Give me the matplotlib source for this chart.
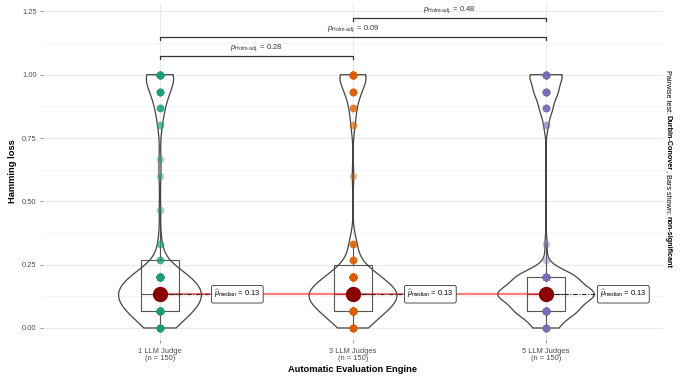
import numpy as np
import matplotlib
matplotlib.use("Agg")
from matplotlib import pyplot as plt
from matplotlib import mlab

plt.rcParams['font.family'] = ['Liberation Sans', 'DejaVu Sans']
plt.rcParams['mathtext.fontset'] = 'custom'
plt.rcParams['mathtext.rm'] = 'Liberation Sans'
plt.rcParams['mathtext.it'] = 'Liberation Sans:italic'
plt.rcParams['mathtext.bf'] = 'Liberation Sans:bold'

# Hamming loss levels (k/15) and how many of the 150 items sit on each level
loss_levels = [0.0, 0.0667, 0.1333, 0.2, 0.2667, 0.3333, 0.4, 0.4667,
               0.5333, 0.6, 0.6667, 0.7333, 0.8, 0.8667, 0.9333, 1.0]
counts_1_judge = [12, 30, 40, 29, 3, 2, 0, 1, 0, 1, 1, 0, 2, 4, 8, 17]
counts_3_judges = [12, 30, 45, 25, 5, 4, 0, 0, 0, 1, 0, 0, 2, 3, 7, 16]
counts_5_judges = [11, 28, 46, 28, 1, 1, 0, 0, 0, 0, 0, 0, 2, 6, 11, 16]

groups = ['1 LLM Judge', '3 LLM Judges', '5 LLM Judges']
group_colors = ['#1B9E77', '#D95F02', '#7570B3']

# pairwise comparisons (Durbin-Conover, Holm adjusted)
pairs = [(1, 2), (1, 3), (2, 3)]
pair_pvalues = ['0.28', '0.09', '0.48']
pair_heights = [1.075, 1.15, 1.225]

data = [np.repeat(loss_levels, c) for c in (counts_1_judge, counts_3_judges, counts_5_judges)]
positions = [1, 2, 3]


def nrd0(kde):
    # R's default bandwidth, as a factor of the sample sd
    x = kde.dataset.ravel()
    sd = np.std(x, ddof=1)
    iqr = np.subtract(*np.percentile(x, [75, 25]))
    bw = 0.9 * min(sd, iqr / 1.34) * len(x) ** -0.2
    return bw / sd


# scale violins by area (same n in every group -> width follows peak density)
peaks = []
for vals in data:
    kde = mlab.GaussianKDE(vals, nrd0)
    grid = np.linspace(vals.min(), vals.max(), 512)
    peaks.append(kde.evaluate(grid).max())
violin_widths = [0.5 * (p / max(peaks)) ** 0.7 for p in peaks]

fig = plt.figure(figsize=(6.8, 3.77), dpi=100)
ax = fig.add_axes([43 / 680, 37 / 377, 620 / 680, 337 / 377])

# grid
for y in np.arange(0, 1.3, 0.25):
    ax.axhline(y, color='#EBEBEB', lw=0.8, zorder=0)
for y in np.arange(0.125, 1.3, 0.25):
    ax.axhline(y, color='#F3F3F3', lw=0.6, zorder=0)
for x in positions:
    ax.axvline(x, color='#EBEBEB', lw=0.8, zorder=0)

# boxplots
ax.boxplot(data, positions=positions, widths=0.2, showfliers=False, showcaps=False,
           whis=1.5, manage_ticks=False,
           boxprops=dict(color='#555555', lw=0.8),
           whiskerprops=dict(color='#555555', lw=0.8),
           medianprops=dict(color='#555555', lw=0.8), zorder=2)

# violins
parts = ax.violinplot(data, positions=positions, widths=violin_widths,
                      showextrema=False, points=512, bw_method=nrd0)
for body in parts['bodies']:
    body.set_facecolor('none')
    body.set_edgecolor('#444444')
    body.set_linewidth(0.9)
    body.set_alpha(1)
    body.set_zorder(2)

# raw points
for pos, vals, col in zip(positions, data, group_colors):
    ax.plot(np.full(len(vals), pos), vals, 'o', ms=5.5, color=col, alpha=0.4,
            mec='none', zorder=3)

# medians
medians = [np.median(v) for v in data]
ax.plot(positions, medians, color='red', alpha=0.5, lw=1.6, zorder=4)
for pos, med in zip(positions, medians):
    ax.plot([pos, pos + 0.27], [med, med], color='#222222', lw=0.8,
            ls=(0, (4, 1.5, 1, 1.5)), zorder=4)
    ax.plot(pos, med, 'o', ms=10, color='#8B0000', zorder=5)
    ax.text(pos + 0.28, med, r'$\widehat{\mu}_{\mathrm{median}}$ = %.2f' % med,
            fontsize=5.4, va='center', ha='left', zorder=6,
            bbox=dict(boxstyle='round,pad=0.35,rounding_size=0.25', fc='white',
                      ec='#333333', lw=0.6))

# significance bars
tip = 0.012
for (a, b), p, h in zip(pairs, pair_pvalues, pair_heights):
    ax.plot([a, a, b, b], [h - tip, h, h, h - tip], color='#333333', lw=0.9, zorder=4)
    ax.text((a + b) / 2, h + 0.012, r'$p_{\mathrm{Holm‐adj.}}$ = ' + p,
            fontsize=5.4, ha='center', va='bottom', color='#333333')

ax.set_xlim(0.394, 3.606)
ax.set_ylim(-0.0474, 1.283)
ax.set_yticks([0, 0.25, 0.5, 0.75, 1.0, 1.25])
ax.set_yticklabels(['0.00', '0.25', '0.50', '0.75', '1.00', '1.25'])
ax.set_xticks(positions)
ax.set_xticklabels([g + '\n(n = %d)' % len(v) for g, v in zip(groups, data)],
                   linespacing=1.1)
ax.tick_params(labelsize=5.4, labelcolor='#4D4D4D', color='#888888', length=2.5,
               width=0.6, pad=2)
ax.tick_params(axis='x', pad=3)
for s in ax.spines.values():
    s.set_visible(False)

ax.set_xlabel('Automatic Evaluation Engine', fontsize=6.7, fontweight='bold', labelpad=2)
ax.set_ylabel('Hamming loss', fontsize=6.7, fontweight='bold', labelpad=4)

# caption on the right, pieces chained top to bottom
pieces = [('Pairwise test: ', 'normal'), ('Durbin-Conover', 'bold'),
          (', Bars shown: ', 'normal'), ('non-significant', 'bold')]
prev = fig.text(668 / 680, 1 - 70 / 377, pieces[0][0], rotation=270, ha='center',
                va='top', fontsize=5.2, fontweight=pieces[0][1])
for txt, w in pieces[1:]:
    prev = ax.annotate(txt, xy=(0.5, 0), xycoords=prev, rotation=270, ha='center',
                       va='top', fontsize=5.2, fontweight=w, annotation_clip=False)

fig.savefig('out.png', dpi=100)
